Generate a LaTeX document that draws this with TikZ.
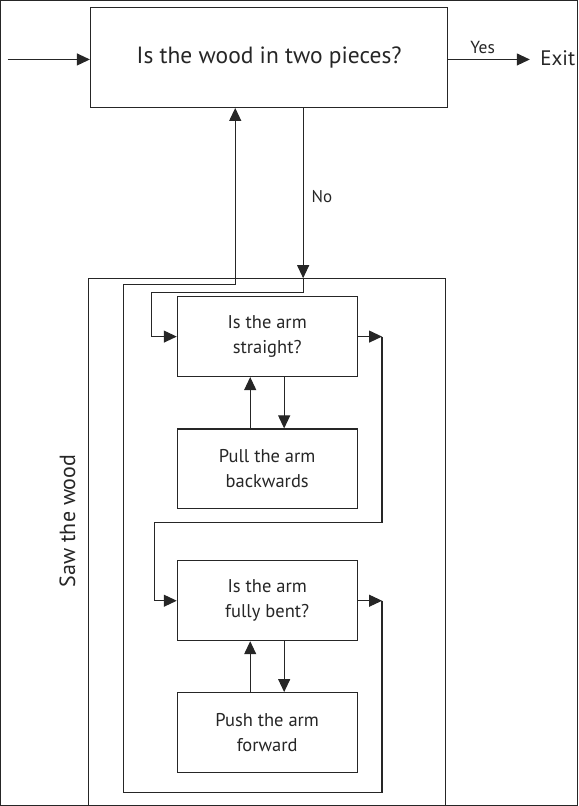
\documentclass[tikz,border=0pt]{standalone}
\usepackage{fontspec}
\setmainfont{PT Sans}
\usetikzlibrary{arrows.meta}
\begin{document}
\begin{tikzpicture}[x=1pt,y=-1pt,
  line width=1.1pt,
  every path/.style={draw=black!85},
  flow/.style={-{Triangle[length=13pt,width=12pt]}},
  task/.style={draw=black!85, minimum width=180pt, minimum height=80pt, inner sep=0pt,
    align=center, text=black!85, font=\fontsize{18.5}{25}\selectfont},
  lbl/.style={text=black!85, inner sep=0pt},
]
\useasboundingbox (0,0) rectangle (578,806);

% main decision
\node[draw=black!85, minimum width=358pt, minimum height=100pt, text=black!85,
      font=\fontsize{23.5}{28}\selectfont] (top) at (269,57) {Is the wood in two pieces?};
\coordinate (in) at (7,59);
\draw[flow] (in) -- (in -| top.west);
\node[lbl, anchor=west, inner xsep=10pt, font=\fontsize{21}{26}\selectfont] (exit) at (530,58) {Exit};
\draw[flow] (top.east |- in) -- (exit.west |- in)
  node[pos=0.42, above=5pt, lbl, font=\fontsize{17.5}{20}\selectfont] (yes) {Yes};

% "Saw the wood" frame (open at the bottom)
\coordinate (fbl) at (88,806);
\coordinate (ftl) at (88,278);
\coordinate (ftr) at (446,278);
\coordinate (fbr) at (446,806);
\draw (fbl) -- (ftl) -- (ftr) -- (fbr);
\node[lbl, rotate=90, font=\fontsize{22}{26}\selectfont] (saw) at (67,521) {Saw the wood};

% inner steps
\node[task] (a) at (267,336.5) {Is the arm\\straight?};
\node[task] (pull) at (267,469) {Pull the arm\\backwards};
\node[task] (b) at (267,601) {Is the arm\\fully bent?};
\node[task] (push) at (267,733) {Push the arm\\forward};

% "No" branch into the frame
\coordinate (no1) at (303,278);
\coordinate (no2) at (303,292);
\coordinate (no3) at (151,292);
\draw[flow] (top.south -| no1) -- (no1) node[pos=0.52, right=8pt, lbl, font=\fontsize{17}{20}\selectfont] (no) {No};
\draw[flow] (no1) -- (no2) -- (no3) -- (no3 |- a.west) -- (a.west);

% straight-arm loop
\draw[flow] ([xshift=-17pt]pull.north) -- ([xshift=-17pt]a.south);
\draw[flow] ([xshift=17pt]a.south) -- ([xshift=17pt]pull.north);

% from the first test to the second
\coordinate (r1) at (382,336.5);
\coordinate (r2) at (382,523);
\coordinate (l2) at (154,523);
\draw[flow] (a.east) -- (r1);
\draw[flow] (r1) -- (r2) -- (l2) -- (l2 |- b.west) -- (b.west);

% bent-arm loop
\draw[flow] ([xshift=-17pt]push.north) -- ([xshift=-17pt]b.south);
\draw[flow] ([xshift=17pt]b.south) -- ([xshift=17pt]push.north);

% back to the main decision
\coordinate (r3) at (382,601);
\coordinate (r4) at (382,793);
\coordinate (l4) at (123,793);
\coordinate (l5) at (123,284);
\coordinate (m5) at (235,284);
\draw[flow] (b.east) -- (r3);
\draw[flow] (r3) -- (r4) -- (l4) -- (l5) -- (m5) -- (m5 |- top.south);
\end{tikzpicture}
\end{document}
